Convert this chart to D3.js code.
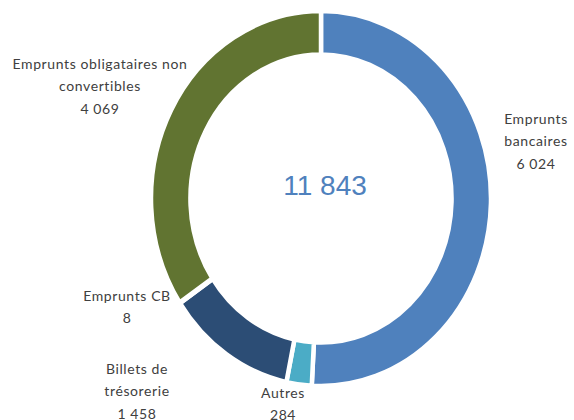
<!DOCTYPE html>
<html><head><meta charset="utf-8">
<script src="https://cdn.jsdelivr.net/npm/d3@7"></script>
<style>
html,body{margin:0;padding:0;background:#fff;}
svg{display:block;}
</style></head>
<body>
<svg id="chart" width="574" height="420"></svg>
<script>
// Data
const categories = ["Emprunts bancaires", "Autres", "Billets de trésorerie", "Emprunts CB", "Emprunts obligataires non convertibles"];
const values = [6024, 284, 1458, 8, 4069];
const valueLabels = ["6 024", "284", "1 458", "8", "4 069"];
const labelLines = [["Emprunts", "bancaires"], ["Autres"], ["Billets de", "trésorerie"], ["Emprunts CB"], ["Emprunts obligataires non", "convertibles"]];
const totalLabel = "11 843";

// Layout / style
const colors = ["#4F81BD", "#4BACC6", "#2C4D75", "#772C2A", "#617431"];
const labelPos = [[536, 118], [283, 392], [137, 368], [127, 295], [100, 63]];
const cx = 321, cy = 198.5, outerR = 187.5, innerR = 144, xScale = 170 / 187.5;
const lineH = 22.8;

const svg = d3.select("#chart");
const pie = d3.pie().sort(null).value(d => d)(values);
const arc = d3.arc().innerRadius(innerR).outerRadius(outerR);

const g = svg.append("g").attr("transform", `translate(${cx},${cy}) scale(${xScale},1)`);
g.selectAll("path").data(pie).join("path")
  .attr("d", arc)
  .attr("fill", (d, i) => colors[i])
  .attr("stroke", "#fff")
  .attr("stroke-width", 4.5)
  .attr("vector-effect", "non-scaling-stroke");

svg.append("text")
  .attr("x", cx + 4).attr("y", 195)
  .attr("text-anchor", "middle")
  .attr("font-family", "Liberation Sans, Arial, sans-serif")
  .attr("font-size", 28).attr("fill", "#4F81BD")
  .text(totalLabel);

categories.forEach((c, i) => {
  const lines = labelLines[i].concat([valueLabels[i]]);
  const t = svg.append("text")
    .attr("text-anchor", "middle")
    .attr("font-family", "Lato, 'Open Sans', sans-serif")
    .attr("font-size", 14).attr("letter-spacing", 0.6).attr("fill", "#404040");
  lines.forEach((l, j) => {
    t.append("tspan").attr("x", labelPos[i][0]).attr("y", labelPos[i][1] + j * lineH)
      .attr("dominant-baseline", "central").text(l);
  });
});
</script>
</body></html>
